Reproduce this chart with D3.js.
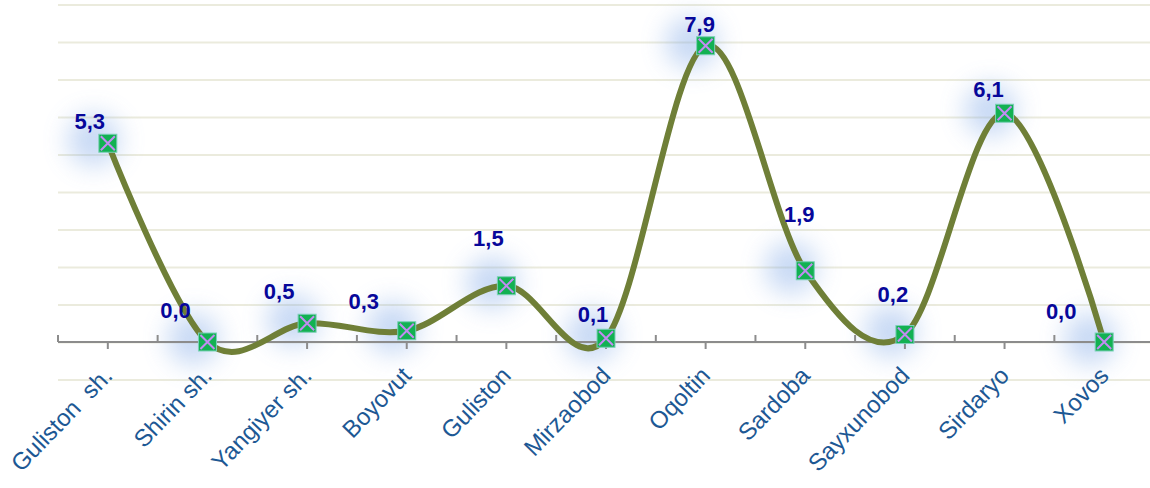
<!DOCTYPE html>
<html>
<head>
<meta charset="utf-8">
<script src="https://cdn.jsdelivr.net/npm/d3@7"></script>
<style>
  body { margin: 0; background: #fff; }
  svg { display: block; font-family: "Liberation Sans", Arial, sans-serif; }
</style>
</head>
<body>
<script>
// district names and values
var districts = ["Guliston  sh.", "Shirin sh.", "Yangiyer sh.", "Boyovut", "Guliston",
  "Mirzaobod", "Oqoltin", "Sardoba", "Sayxunobod", "Sirdaryo", "Xovos"];
var values = [5.3, 0.0, 0.5, 0.3, 1.5, 0.1, 7.9, 1.9, 0.2, 6.1, 0.0];
var valueLabels = ["5,3", "0,0", "0,5", "0,3", "1,5", "0,1", "7,9", "1,9", "0,2", "6,1", "0,0"];
var gridTicks = [-1, 0, 1, 2, 3, 4, 5, 6, 7, 8, 9];

var svgWidth = 1150;
var svgHeight = 488;

// plot area
var plotLeft = 58, plotRight = 1154, plotTop = 4.5, plotBottom = 379.5;

// small nudges for the value labels (relative to each marker)
var labelDx = [-18, -32, -28, -43, -18, -13, -6, -6, -12, -16, -43];
var labelDy = [-14, -24, -24, -22, -40, -16, -14, -49, -33, -16, -23];

var svg = d3.select("body")
  .append("svg")
  .attr("width", svgWidth)
  .attr("height", svgHeight);

var defs = svg.append("defs");
defs.append("filter")
  .attr("id", "glow")
  .attr("x", "-100%").attr("y", "-100%")
  .attr("width", "300%").attr("height", "300%")
  .append("feGaussianBlur")
  .attr("stdDeviation", 13);

var xBand = d3.scaleBand()
  .domain(districts)
  .range([plotLeft, plotRight])
  .paddingInner(0)
  .paddingOuter(0);

var yScale = d3.scaleLinear()
  .domain([-1, 9])
  .range([plotBottom, plotTop]);

function cx(d) { return xBand(d) + xBand.bandwidth() / 2; }

// horizontal grid lines
var gridAxis = d3.axisLeft(yScale)
  .tickValues(gridTicks)
  .tickSize(-(svgWidth - plotLeft))
  .tickFormat("");

var grid = svg.append("g")
  .attr("transform", "translate(" + plotLeft + ",0)")
  .call(gridAxis);
grid.select(".domain").remove();
grid.selectAll(".tick line")
  .attr("stroke", "#ebebdd")
  .attr("stroke-width", 2);

// glow halos behind markers
svg.append("g")
  .selectAll("circle")
  .data(values)
  .enter()
  .append("circle")
  .attr("cx", function(d, i) { return cx(districts[i]) - 14; })
  .attr("cy", function(d) { return yScale(d) - 3; })
  .attr("r", 26)
  .attr("fill", "#7aa4e6")
  .attr("opacity", 0.42)
  .attr("filter", "url(#glow)");

// category axis at zero
var y0 = yScale(0);
var xAxis = d3.axisBottom(xBand)
  .tickSize(7)
  .tickSizeOuter(0)
  .tickPadding(0);

var axisG = svg.append("g")
  .attr("transform", "translate(0," + y0 + ")")
  .call(xAxis);

axisG.select(".domain")
  .attr("d", "M" + plotLeft + ",0H" + svgWidth)
  .attr("stroke", "#8c8c8c")
  .attr("stroke-width", 2);
axisG.selectAll(".tick line")
  .attr("stroke", "#8c8c8c")
  .attr("stroke-width", 2);
axisG.selectAll(".tick text")
  .attr("fill", "#1d5894")
  .attr("font-size", 24)
  .attr("font-family", "'Liberation Sans', Arial, sans-serif")
  .attr("text-anchor", "end")
  .attr("y", 0)
  .attr("dy", 0)
  .style("white-space", "pre")
  .attr("transform", "translate(6,35) rotate(-46)");

// upward boundary ticks between categories
var bounds = districts.map(function(d) { return xBand(d); });
svg.append("g")
  .selectAll("line")
  .data(bounds)
  .enter()
  .append("line")
  .attr("x1", function(d) { return d; })
  .attr("x2", function(d) { return d; })
  .attr("y1", y0 - 7)
  .attr("y2", y0)
  .attr("stroke", "#8c8c8c")
  .attr("stroke-width", 2);

// smoothed line
var line = d3.line()
  .x(function(d, i) { return cx(districts[i]); })
  .y(function(d) { return yScale(d); })
  .curve(d3.curveCardinal.tension(0));

svg.append("path")
  .datum(values)
  .attr("d", line)
  .attr("fill", "none")
  .attr("stroke", "#6f7f37")
  .attr("stroke-width", 6)
  .attr("stroke-linejoin", "round");

// markers: green square with purple cross
var ms = 9;
var markers = svg.append("g")
  .selectAll("g")
  .data(values)
  .enter()
  .append("g")
  .attr("transform", function(d, i) {
    return "translate(" + cx(districts[i]) + "," + yScale(d) + ")";
  });

markers.append("rect")
  .attr("x", -ms).attr("y", -ms)
  .attr("width", ms * 2).attr("height", ms * 2)
  .attr("fill", "#12b152")
  .attr("stroke", "#7ccfb8")
  .attr("stroke-width", 1);

markers.append("path")
  .attr("d", "M" + (-ms + 2) + "," + (-ms + 2) + "L" + (ms - 2) + "," + (ms - 2) +
    "M" + (ms - 2) + "," + (-ms + 2) + "L" + (-ms + 2) + "," + (ms - 2))
  .attr("stroke", "#c28cf2")
  .attr("stroke-width", 2)
  .attr("fill", "none");

// value labels
svg.append("g")
  .selectAll("text")
  .data(values)
  .enter()
  .append("text")
  .attr("x", function(d, i) { return cx(districts[i]) + labelDx[i]; })
  .attr("y", function(d, i) { return yScale(d) + labelDy[i]; })
  .attr("text-anchor", "middle")
  .attr("font-size", 22)
  .attr("font-weight", "bold")
  .attr("fill", "#07079a")
  .text(function(d, i) { return valueLabels[i]; });
</script>
</body>
</html>
